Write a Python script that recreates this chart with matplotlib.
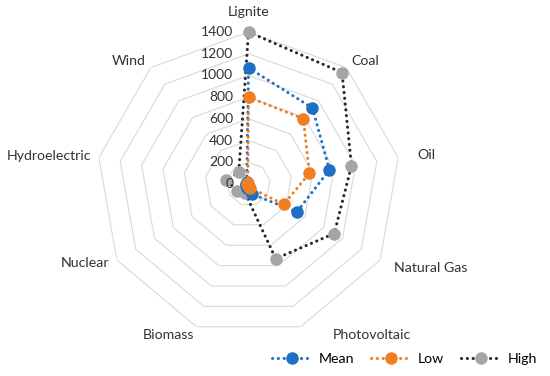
import numpy as np
import matplotlib
matplotlib.use("Agg")
import matplotlib.pyplot as plt
from matplotlib.lines import Line2D

categories = ["Lignite", "Coal", "Oil", "Natural Gas", "Photovoltaic",
              "Biomass", "Nuclear", "Hydroelectric", "Wind"]
mean = [1070, 915, 757, 515, 100, 40, 25, 25, 25]
low = [800, 785, 570, 375, 35, 15, 10, 15, 10]
high = [1400, 1340, 963, 912, 732, 90, 122, 210, 140]
rticks = [0, 200, 400, 600, 800, 1000, 1200, 1400]

plt.rcParams['font.family'] = ['Lato', 'DejaVu Sans']

fig = plt.figure(figsize=(5.5, 3.76), dpi=100)
ax = fig.add_axes([0.1755, 0.1064, 0.5527, 0.8085], projection='polar')
ax.set_theta_zero_location('N')
ax.set_theta_direction(-1)
ax.set_ylim(0, 1400)
ax.grid(False)
ax.spines['polar'].set_visible(False)
ax.set_xticks([])
ax.set_yticks([])
ax.patch.set_visible(False)

n = len(categories)
theta = np.arange(n) * 2 * np.pi / n
theta_c = np.append(theta, theta[0])

for lv in rticks[1:]:
    ax.plot(theta_c, [lv] * (n + 1), color='#D9D9D9', lw=0.8, zorder=1)

def close(v):
    return list(v) + [v[0]]

DOT = (0, (0.05, 1.85))

series = [
    ("High", high, '#262626', '#A5A5A5'),
    ("Mean", mean, '#1F6FC5', '#1F6FC5'),
    ("Low", low, '#F07F22', '#F07F22'),
]
handles = {}
for i, (name, vals, lc, mc) in enumerate(series):
    ax.plot(theta_c, close(vals), color=lc, lw=2.2, linestyle=DOT,
            dash_capstyle='round', zorder=2 + i, clip_on=False)
    ax.plot(theta, vals, linestyle='none', marker='o', ms=8,
            markerfacecolor=mc, markeredgecolor=mc, zorder=2 + i,
            clip_on=False)
    handles[name] = (lc, mc)

# category labels (theta in degrees clockwise from top, radius in data units)
label_pos = [(0, 1584), (43.6, 1566), (80.7, 1658), (114.7, 1850), (140.7, 1796),
             (208.0, 1576), (244.2, 1672), (278.0, 1860), (315.8, 1579)]
for cat, (tdeg, rr) in zip(categories, label_pos):
    ax.text(np.deg2rad(tdeg), rr, cat, ha='center', va='center',
            fontsize=10.2, color='#333333', clip_on=False)

for v in rticks:
    ax.annotate(str(v), xy=(0, v), xytext=(-11, 0), textcoords='offset points',
                ha='right', va='center', fontsize=10, color='#333333')

leg_handles = [Line2D([], [], color=handles[nm][0], lw=2.2, linestyle=DOT,
                      dash_capstyle='round',
                      marker='o', ms=8, markerfacecolor=handles[nm][1],
                      markeredgecolor=handles[nm][1])
               for nm in ["Mean", "Low", "High"]]
fig.legend(leg_handles, ["Mean", "Low", "High"], loc='lower right',
           bbox_to_anchor=(1.0, -0.005), ncol=3, frameon=False, fontsize=10.2,
           handlelength=2.8, numpoints=1, columnspacing=1.2, handletextpad=0.5)

fig.savefig("out.png", dpi=100)
